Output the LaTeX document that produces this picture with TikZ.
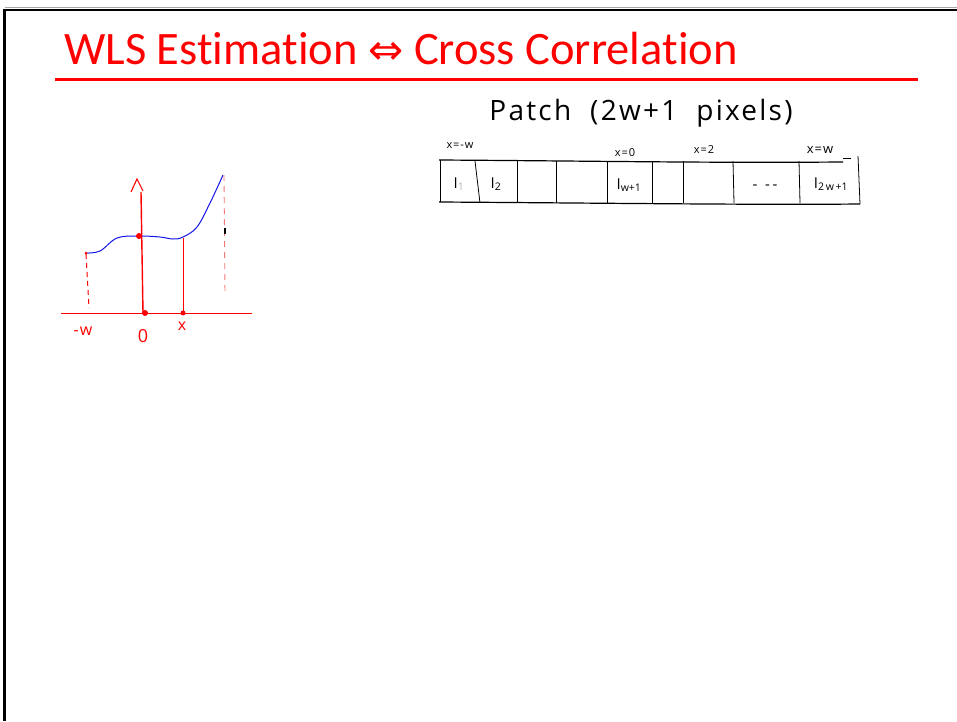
\documentclass[tikz,border=0pt]{standalone}
\usepackage{fontspec}
\setmainfont{Open Sans}
\newfontfamily\titlefont[Ligatures={NoCommon}]{Carlito}
\newfontfamily\symfont{DejaVu Sans}
\newfontfamily\handfont[LetterSpace=8]{Open Sans}
\definecolor{tred}{RGB}{255,0,0}
\definecolor{cblue}{RGB}{20,20,230}
\definecolor{pinkred}{RGB}{240,120,120}
\begin{document}
\begin{tikzpicture}[x=1pt,y=-1pt,
  hand/.style={inner sep=0pt, font=\handfont\fontsize{11}{13}\selectfont},
  redlbl/.style={inner sep=0pt, text=tred, font=\handfont\fontsize{16}{18}\selectfont},
  cell/.style={inner sep=0pt, font=\fontsize{15}{17}\selectfont},
  dotr/.style={circle, fill=tred, inner sep=0pt, minimum size=#1}]
\useasboundingbox (0,0) rectangle (957,721);
% frame
\draw[gray!70, line width=1pt] (5,7) -- (957,7);
\draw[black, line width=2.5pt] (4.5,10) -- (957,10);
\draw[black, line width=2.5pt] (4.5,8.8) -- (4.5,721);
% title
\node[anchor=base west, text=tred, inner sep=0pt,
      font=\titlefont\fontsize{46.5}{50}\selectfont] (title) at (64,64)
      {WLS Estimation {\symfont\fontsize{42}{44}\selectfont ⇔} Cross Correlation};
\draw[tred, line width=3pt] (55,79.5) -- (918,79.5);
% ---- graph ----
\draw[tred, line width=1.2pt] (61,313.5) -- (252,313.5);
\draw[tred, line width=1.4pt] (141,192) -- (143,313);
\draw[tred, line width=1.1pt] (131,192) -- (137,179) -- (143,191);
\draw[cblue, line width=1pt] plot[smooth, tension=0.6] coordinates
  {(86,253) (100,251) (117,238) (138,236) (160,237) (173,239) (183,237) (197,227) (210,203) (223,175)};
\draw[tred, line width=1pt, dash pattern=on 5pt off 4pt] (86,254) -- (89,308);
\draw[tred, line width=1.1pt] (183.5,238) -- (183.5,313);
\draw[pinkred, line width=0.9pt, dash pattern=on 6pt off 5pt] (224,175) -- (225,294);
\draw[black, line width=1.2pt] (225,228) -- (225,234);
\node[dotr=3pt] (pw) at (86,253) {};
\node[dotr=6pt] (p0) at (139,236) {};
\node[dotr=6pt] (o) at (145,313) {};
\node[dotr=5pt] (px) at (183,313) {};
\node[redlbl] (lw) at (83,331) {-w};
\node[redlbl, font=\fontsize{18}{20}\selectfont] (l0) at (143,336) {0};
\node[redlbl] (lx) at (182,326) {x};
% ---- patch ----
\node[inner sep=0pt, font=\handfont\fontsize{28}{32}\selectfont] (patch) at (641,113)
  {Patch\ \ (2w+1\ \ pixels)};
\node[hand] (xa) at (460,146) {x=-w};
\node[hand] (xb) at (625,153) {x=0};
\node[hand] (xc) at (704,150) {x=2};
\node[hand, font=\handfont\fontsize{13}{15}\selectfont] (xd) at (820,150) {x=w};
\draw[black, line width=1.2pt] (439,160) .. controls (600,161) and (700,163) .. (843,162);
\draw[black, line width=0.8pt] (843,158) -- (851,158);
\draw[black, line width=1.2pt] (439,202) .. controls (600,203) and (750,205) .. (860,204);
\draw[black, line width=1pt] (440,160) -- (440,202);
\draw[black, line width=0.8pt] (858,156) -- (860,204);
\foreach \xt/\xb in {475/480, 517/517, 556/556, 607/607, 652/652, 683/683, 733/734, 799/800}
  \draw[black, line width=0.8pt] (\xt,161) -- (\xb,203);
\node[cell] (c1) at (459,184) {I\textsubscript{\color{gray!60}1}};
\node[cell] (c2) at (496,184) {I\textsubscript{2}};
\node[cell] (c3) at (629,185) {I\textsubscript{w+1}};
\node[cell] (c4) at (765,187) {-\ \ -\,-};
\node[cell] (c5) at (831,184) {I\textsubscript{2\,w\,+1}};
\end{tikzpicture}
\end{document}
